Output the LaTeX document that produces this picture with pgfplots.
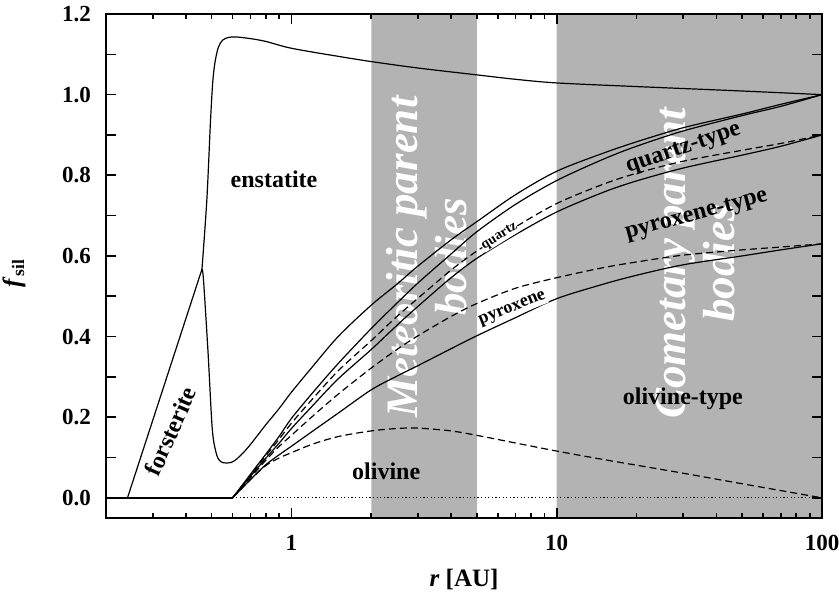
\documentclass[border=0pt]{standalone}
\usepackage{fontspec}
\setmainfont{Liberation Serif}
\usepackage{pgfplots}
\pgfplotsset{compat=1.18}
\definecolor{bandgray}{RGB}{179,179,179}
\begin{document}
\begin{tikzpicture}
\useasboundingbox (-53pt,-38pt) rectangle (366.5pt,259pt);
\begin{axis}[
  at={(0,0)}, anchor=south west,
  scale only axis, width=358pt, height=252pt,
  xmode=log, xmin=0.2, xmax=100, ymin=-0.05, ymax=1.2,
  xtick={1,10,100}, xticklabels={1,10,100},
  minor xtick={0.3,0.4,0.5,0.6,0.7,0.8,0.9,2,3,4,5,6,7,8,9,20,30,40,50,60,70,80,90},
  ytick={0,0.1,0.2,0.3,0.4,0.5,0.6,0.7,0.8,0.9,1.0,1.1,1.2},
  yticklabels={0.0,,0.2,,0.4,,0.6,,0.8,,1.0,,1.2},
  tick align=inside,
  major tick length=5pt, minor tick length=2.5pt,
  axis line style={line width=1.1pt},
  tick style={black, line width=0.8pt},
  ticklabel style={font=\fontsize{11.5}{13}\selectfont\bfseries},
  /pgf/number format/assume math mode=true,
  xticklabel style={yshift=-5pt},
  yticklabel style={xshift=-4pt},
  xlabel={\textbf{\textit{r} [AU]}},
  ylabel={\textbf{\textit{f}\textsubscript{sil}}},
  label style={font=\fontsize{12.5}{14}\selectfont},
  xlabel style={at={(axis description cs:0.5,-0.123)}, anchor=center},
  ylabel style={at={(axis description cs:-0.1285,0.486)}, anchor=center},
  axis on top,
  every axis plot/.append style={line width=0.6pt},
]
% gray bands
\addplot[fill=bandgray, draw=none] coordinates {(2,-0.05) (5,-0.05) (5,1.2) (2,1.2) (2,-0.05)};
\addplot[fill=bandgray, draw=none] coordinates {(10,-0.05) (100,-0.05) (100,1.2) (10,1.2) (10,-0.05)};
% white band labels
\node[rotate=90, align=center, text=white, font=\fontsize{22.5}{24.5}\selectfont\bfseries\itshape] at (axis cs:3.23,0.597) {Meteoritic parent\\bodies};
\node[rotate=90, align=center, text=white, font=\fontsize{22.5}{24.5}\selectfont\bfseries\itshape] at (axis cs:33.4,0.582) {Cometary parent\\bodies};
% baseline
\addplot[black, line width=1pt] coordinates {(0.2,0) (0.6,0)};
\addplot[black, dash pattern=on 0.6pt off 1.2pt] coordinates {(0.6,0) (100,0)};
% forsterite rise
\addplot[black] coordinates {(0.241,0) (0.46,0.567)};
% A enstatite top
\addplot[black, smooth, tension=0.5] coordinates {
(0.46,0.567) (0.48,0.74) (0.495,0.93) (0.505,1.03) (0.515,1.08) (0.53,1.117) (0.55,1.135) (0.58,1.142) (0.62,1.143) (0.7,1.139) (0.8,1.132) (1.0,1.115) (1.5,1.095) (2,1.082) (3,1.066) (5,1.049) (7,1.038) (10,1.029) (20,1.020) (50,1.009) (100,1.0)};
% B
\addplot[black, smooth, tension=0.5] coordinates {
(0.46,0.567) (0.466,0.542) (0.485,0.36) (0.503,0.171) (0.52,0.112) (0.535,0.093) (0.555,0.087) (0.585,0.087) (0.61,0.092) (0.65,0.108) (0.7,0.132) (0.8,0.181) (0.9,0.222) (1.0,0.262) (1.2,0.325) (1.5,0.40) (2,0.478) (2.5,0.53) (3,0.575) (4,0.64) (5,0.685) (7,0.752) (10,0.81) (15,0.855) (20,0.883) (30,0.918) (50,0.952) (70,0.976) (100,1.0)};
% C
\addplot[black, smooth, tension=0.5] coordinates {
(0.6,0) (0.65,0.03) (0.7,0.058) (0.8,0.108) (0.9,0.153) (1.0,0.197) (1.2,0.26) (1.5,0.333) (2,0.42) (2.5,0.483) (3,0.533) (4,0.605) (5,0.66) (7,0.728) (10,0.787) (15,0.84) (20,0.872) (30,0.91) (50,0.948) (70,0.971) (100,1.0)};
% D dashed (quartz)
\addplot[black, dash pattern=on 3.5pt off 2pt, smooth, tension=0.5] coordinates {
(0.6,0) (0.7,0.056) (0.8,0.104) (0.9,0.146) (1.0,0.185) (1.2,0.245) (1.5,0.315) (2,0.39) (2.5,0.45) (3,0.495) (4,0.565) (5,0.612) (7,0.672) (10,0.73) (15,0.778) (20,0.805) (30,0.835) (50,0.862) (70,0.879) (100,0.9)};
% E
\addplot[black, smooth, tension=0.5] coordinates {
(0.6,0) (0.7,0.053) (0.8,0.098) (0.9,0.136) (1.0,0.172) (1.2,0.228) (1.5,0.295) (2,0.368) (2.5,0.428) (3,0.475) (4,0.546) (5,0.594) (7,0.653) (10,0.709) (15,0.758) (20,0.786) (30,0.818) (50,0.85) (70,0.872) (100,0.9)};
% F dashed (pyroxene)
\addplot[black, dash pattern=on 3.5pt off 2pt, smooth, tension=0.5] coordinates {
(0.6,0) (0.7,0.05) (0.8,0.093) (0.9,0.128) (1.0,0.155) (1.2,0.202) (1.5,0.257) (2,0.322) (2.5,0.368) (3,0.402) (4,0.45) (5,0.482) (7,0.52) (10,0.546) (15,0.571) (20,0.585) (30,0.602) (50,0.615) (70,0.622) (100,0.63)};
% G
\addplot[black, smooth, tension=0.5] coordinates {
(0.6,0) (0.7,0.045) (0.8,0.082) (0.9,0.107) (1.0,0.128) (1.2,0.165) (1.5,0.21) (2,0.268) (2.5,0.302) (3,0.328) (4,0.37) (5,0.402) (7,0.447) (10,0.494) (15,0.53) (20,0.552) (30,0.578) (50,0.6) (70,0.615) (100,0.63)};
% H dashed (olivine)
\addplot[black, dash pattern=on 3.5pt off 2pt, smooth, tension=0.5] coordinates {
(0.6,0) (0.7,0.045) (0.8,0.08) (0.9,0.099) (1.0,0.112) (1.2,0.133) (1.5,0.152) (2,0.166) (2.5,0.172) (3,0.173) (4,0.166) (5,0.155) (7,0.136) (10,0.116) (15,0.095) (20,0.081) (30,0.061) (50,0.035) (70,0.018) (100,0)};
% labels
\node[rotate=66, font=\fontsize{12}{14}\selectfont\bfseries] at (axis cs:0.35,0.165) {forsterite};
\node[font=\fontsize{12}{14}\selectfont\bfseries] at (axis cs:0.86,0.79) {enstatite};
\node[font=\fontsize{12}{14}\selectfont\bfseries] at (axis cs:2.276,0.066) {olivine};
\node[font=\fontsize{12}{14}\selectfont\bfseries] at (axis cs:29.9,0.245) {olivine-type};
\node[rotate=15, font=\fontsize{12}{14}\selectfont\bfseries] at (axis cs:33.7,0.70) {pyroxene-type};
\node[rotate=19, font=\fontsize{12}{14}\selectfont\bfseries] at (axis cs:30.1,0.864) {quartz-type};
\node[rotate=22, fill=white, inner sep=0.5pt, font=\fontsize{9}{10}\selectfont\bfseries] at (axis cs:6.82,0.468) {pyroxene};
\node[rotate=32, fill=white, inner sep=0.3pt, font=\fontsize{7}{8}\selectfont\bfseries] at (axis cs:6.1,0.648) {quartz};
\end{axis}
\end{tikzpicture}
\end{document}
